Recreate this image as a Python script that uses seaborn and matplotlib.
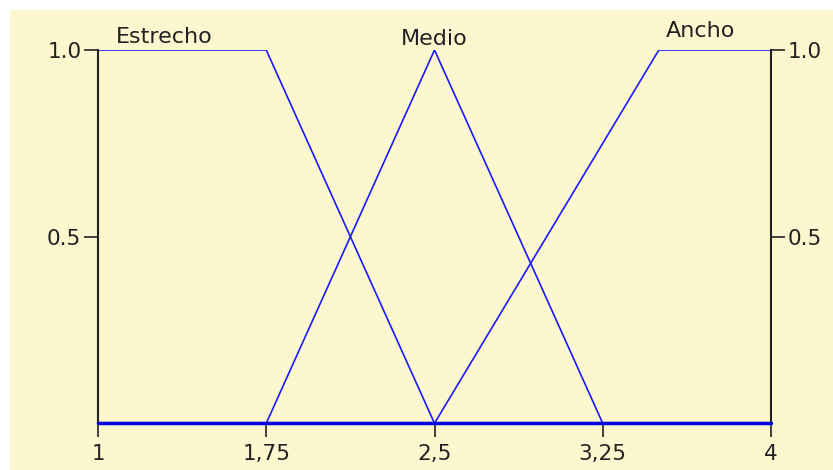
import matplotlib
matplotlib.use("Agg")
import matplotlib.pyplot as plt
import seaborn as sns
import pandas as pd
from matplotlib.patches import Rectangle

# membership functions (x breakpoints, membership degree)
x_estrecho = [1, 1.75, 2.5, 4]
y_estrecho = [1, 1, 0, 0]
x_medio = [1, 1.75, 2.5, 3.25, 4]
y_medio = [0, 0, 1, 0, 0]
x_ancho = [1, 2.5, 3.5, 4]
y_ancho = [0, 0, 1, 1]

labels = ["Estrecho", "Medio", "Ancho"]
label_x = [1.08, 2.5, 3.53]
label_y = [1.02, 1.013, 1.035]
label_ha = ["left", "center", "left"]

xticks = [1, 1.75, 2.5, 3.25, 4]
xtick_labels = ["1", "1,75", "2,5", "3,25", "4"]
yticks = [0.5, 1.0]
ytick_labels = ["0.5", "1.0"]

bg = "#fdf7cf"
sns.set_theme(style="ticks")
plt.rcParams['font.family'] = ['DejaVu Sans']

fig = plt.figure(figsize=(8.33, 4.70), dpi=100)
fig.patch.set_facecolor("white")
fig.patches.append(Rectangle((10 / 833, 0), 1 - 10 / 833, 1 - 10 / 470,
                             transform=fig.transFigure, facecolor=bg,
                             edgecolor="none", zorder=-5))
ax = fig.add_axes([98 / 833, 46.7 / 470, (771 - 98) / 833, (423.3 - 50) / 470])
ax.set_facecolor(bg)

df = pd.concat([
    pd.DataFrame({"x": x_estrecho, "y": y_estrecho, "set": "Estrecho"}),
    pd.DataFrame({"x": x_medio, "y": y_medio, "set": "Medio"}),
    pd.DataFrame({"x": x_ancho, "y": y_ancho, "set": "Ancho"}),
])
sns.lineplot(data=df, x="x", y="y", units="set", estimator=None, sort=False,
             color="#1a1aff", linewidth=1.2, ax=ax, legend=False)
ax.plot([1, 4], [0, 0], color="#0000e0", linewidth=2.5, zorder=5, clip_on=False)

for t, lx, ly, ha in zip(labels, label_x, label_y, label_ha):
    ax.text(lx, ly, t, ha=ha, va="baseline", fontsize=16, color="#222222")

ax.set_xlim(1, 4)
ax.set_ylim(0, 1)
ax.set_xticks(xticks)
ax.set_xticklabels(xtick_labels)
ax.set_yticks(yticks)
ax.set_yticklabels(ytick_labels)
ax.set_xlabel("")
ax.set_ylabel("")
ax.tick_params(axis="both", which="both", direction="out", length=10, width=1.2,
               color="#222222", labelsize=15.5, labelcolor="#222222")
ax.tick_params(axis="x", pad=5, bottom=True, top=False)
ax.tick_params(axis="y", pad=2, left=True, right=True, labelleft=True, labelright=True)

for s in ["left", "right", "bottom"]:
    ax.spines[s].set_visible(True)
    ax.spines[s].set_color("#222222")
    ax.spines[s].set_linewidth(1.5)
ax.spines["top"].set_visible(False)
ax.grid(False)

fig.savefig("out.png", dpi=100, facecolor=fig.get_facecolor())
